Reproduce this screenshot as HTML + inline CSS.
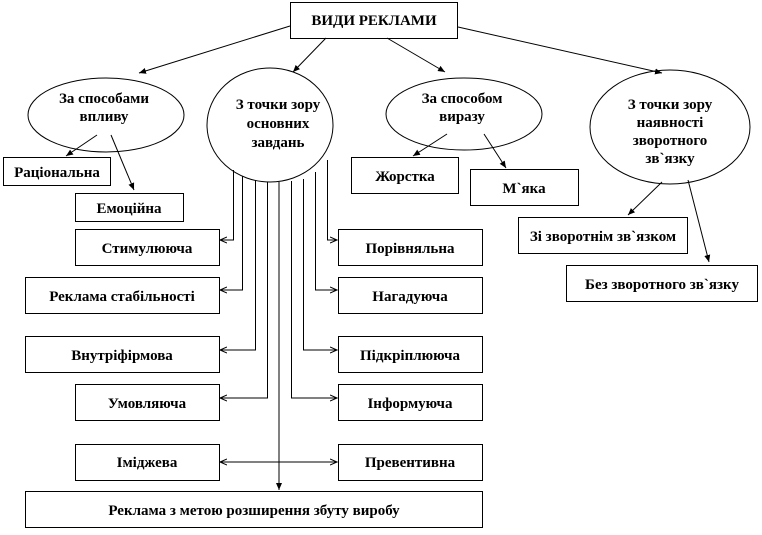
<!DOCTYPE html>
<html><head><meta charset="utf-8"><style>
html,body{margin:0;padding:0;background:#fff}
svg text{font-family:"Liberation Serif","DejaVu Serif",serif;font-weight:bold;font-size:15px;fill:#000}
</style></head><body>
<svg width="762" height="530" viewBox="0 0 762 530" xmlns="http://www.w3.org/2000/svg">
<defs><marker id="a" markerWidth="8" markerHeight="8" refX="7" refY="4" orient="auto" markerUnits="userSpaceOnUse"><path d="M0,1 L7,4 L0,7" fill="none" stroke="#000" stroke-width="1"/></marker>
<marker id="b" markerWidth="8" markerHeight="8" refX="7" refY="4" orient="auto" markerUnits="userSpaceOnUse"><path d="M0,1 L7,4 L0,7 z" fill="#000"/></marker></defs>
<g fill="none" stroke="#000" stroke-width="1">
<rect x="290.5" y="2.5" width="167" height="36"/>
<ellipse cx="106" cy="115" rx="78" ry="37"/>
<ellipse cx="270" cy="125" rx="63" ry="57"/>
<ellipse cx="464" cy="114" rx="78" ry="36"/>
<ellipse cx="670" cy="127" rx="80" ry="57"/>
<rect x="3.5" y="157.5" width="107" height="28"/>
<rect x="75.5" y="193.5" width="108" height="28"/>
<rect x="351.5" y="157.5" width="107" height="36"/>
<rect x="470.5" y="169.5" width="108" height="36"/>
<rect x="518.5" y="217.5" width="169" height="36"/>
<rect x="566.5" y="265.5" width="191" height="36"/>
<rect x="75.5" y="229.5" width="144" height="36"/>
<rect x="25.5" y="277.5" width="194" height="36"/>
<rect x="25.5" y="336.5" width="194" height="36"/>
<rect x="75.5" y="384.5" width="144" height="36"/>
<rect x="75.5" y="444.5" width="144" height="36"/>
<rect x="338.5" y="229.5" width="144" height="36"/>
<rect x="338.5" y="277.5" width="144" height="36"/>
<rect x="338.5" y="336.5" width="144" height="36"/>
<rect x="338.5" y="384.5" width="144" height="36"/>
<rect x="338.5" y="444.5" width="144" height="36"/>
<rect x="25.5" y="491.5" width="457" height="36"/>
</g>
<g fill="none" stroke="#000" stroke-width="1" marker-end="url(#b)">
<line x1="290" y1="26" x2="139" y2="73"/>
<line x1="326" y1="38" x2="293" y2="72"/>
<line x1="387" y1="38" x2="445" y2="72"/>
<line x1="458" y1="27" x2="662" y2="73"/>
<line x1="97" y1="135" x2="66" y2="156"/>
<line x1="111" y1="135" x2="134" y2="190"/>
<line x1="447" y1="134" x2="413" y2="156"/>
<line x1="484" y1="134" x2="506" y2="168"/>
<line x1="662" y1="182" x2="628" y2="215"/>
<line x1="688" y1="180" x2="709" y2="262"/>
<line x1="279" y1="182" x2="279" y2="490"/>
</g>
<g fill="none" stroke="#000" stroke-width="1" marker-end="url(#a)">
<polyline points="233.5,170 233.5,240 220,240"/>
<polyline points="242.5,176 242.5,290 220,290"/>
<polyline points="255.5,180 255.5,350 220,350"/>
<polyline points="267.5,182 267.5,398 220,398"/>
<polyline points="291.5,181 291.5,398 337,398"/>
<polyline points="303.5,179 303.5,350 337,350"/>
<polyline points="315.5,172 315.5,290 337,290"/>
<polyline points="327.5,160 327.5,240 337,240"/>
<line x1="279" y1="462" x2="337" y2="462"/>
<line x1="279" y1="462" x2="220" y2="462"/>
</g>
<g text-anchor="middle">
<text x="374" y="25">ВИДИ РЕКЛАМИ</text>
<text x="104" y="103">За способами</text>
<text x="104" y="121">впливу</text>
<text x="278" y="109">З точки зору</text>
<text x="278" y="128">основних</text>
<text x="278" y="147">завдань</text>
<text x="462" y="103">За способом</text>
<text x="462" y="121">виразу</text>
<text x="670" y="109">З точки зору</text>
<text x="670" y="127">наявності</text>
<text x="670" y="145">зворотного</text>
<text x="670" y="163">зв`язку</text>
<text x="57" y="177">Раціональна</text>
<text x="129" y="213">Емоційна</text>
<text x="405" y="181">Жорстка</text>
<text x="524" y="193">М`яка</text>
<text x="603" y="241">Зі зворотнім зв`язком</text>
<text x="662" y="289">Без зворотного зв`язку</text>
<text x="147" y="253">Стимулююча</text>
<text x="122" y="301">Реклама стабільності</text>
<text x="122" y="360">Внутріфірмова</text>
<text x="147" y="408">Умовляюча</text>
<text x="147" y="467">Іміджева</text>
<text x="410" y="253">Порівняльна</text>
<text x="410" y="301">Нагадуюча</text>
<text x="410" y="360">Підкріплююча</text>
<text x="410" y="408">Інформуюча</text>
<text x="410" y="467">Превентивна</text>
<text x="254" y="515">Реклама з метою розширення збуту виробу</text>
</g>
</svg>
</body></html>
